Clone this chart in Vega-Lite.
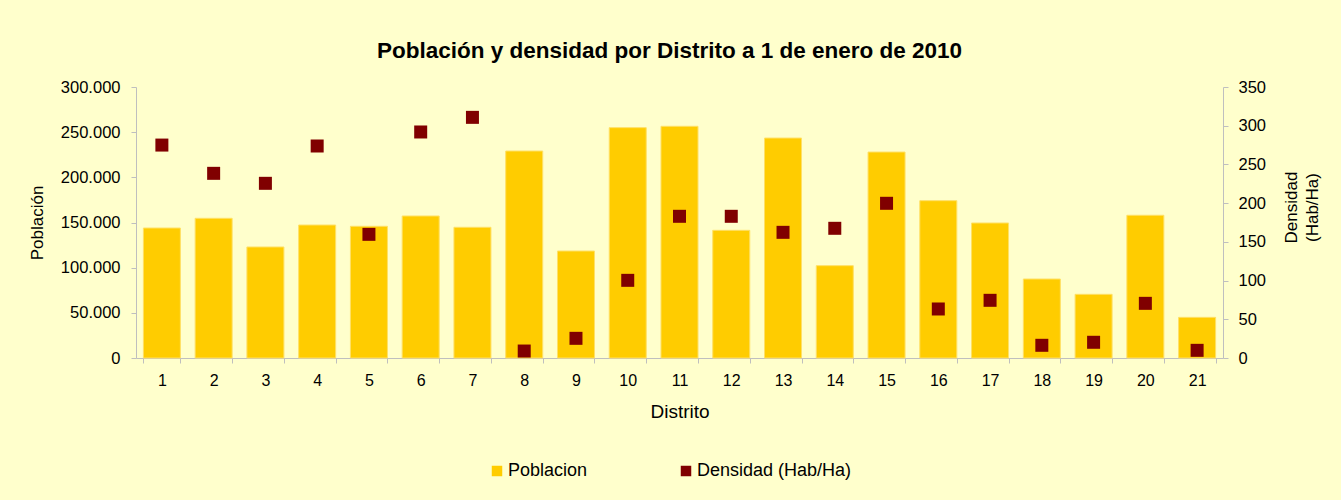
{
  "$schema": "https://vega.github.io/schema/vega-lite/v6.json",
  "autosize": "none",
  "width": 1087,
  "height": 271,
  "padding": {"left": 136, "top": 87, "right": 118, "bottom": 142},
  "background": "#FFFFCC",
  "title": {
    "text": "Población y densidad por Distrito a 1 de enero de 2010",
    "font": "Liberation Sans",
    "fontSize": 22.5,
    "fontWeight": "bold",
    "color": "#000000",
    "anchor": "middle",
    "frame": "group",
    "dx": -10,
    "offset": 17
  },
  "data": {
    "values": [
      {"Distrito": 1, "Poblacion": 143900, "Densidad": 275},
      {"Distrito": 2, "Poblacion": 154650, "Densidad": 238.5},
      {"Distrito": 3, "Poblacion": 122900, "Densidad": 225.6},
      {"Distrito": 4, "Poblacion": 147200, "Densidad": 273.8},
      {"Distrito": 5, "Poblacion": 145800, "Densidad": 159.7},
      {"Distrito": 6, "Poblacion": 157200, "Densidad": 291.9},
      {"Distrito": 7, "Poblacion": 144700, "Densidad": 310.8},
      {"Distrito": 8, "Poblacion": 229150, "Densidad": 9},
      {"Distrito": 9, "Poblacion": 118450, "Densidad": 25.4},
      {"Distrito": 10, "Poblacion": 255000, "Densidad": 100.3},
      {"Distrito": 11, "Poblacion": 256500, "Densidad": 183},
      {"Distrito": 12, "Poblacion": 141350, "Densidad": 183},
      {"Distrito": 13, "Poblacion": 243500, "Densidad": 162.3},
      {"Distrito": 14, "Poblacion": 102200, "Densidad": 167.5},
      {"Distrito": 15, "Poblacion": 228000, "Densidad": 199.8},
      {"Distrito": 16, "Poblacion": 174150, "Densidad": 63.3},
      {"Distrito": 17, "Poblacion": 149450, "Densidad": 74.5},
      {"Distrito": 18, "Poblacion": 87450, "Densidad": 16.4},
      {"Distrito": 19, "Poblacion": 70500, "Densidad": 20.3},
      {"Distrito": 20, "Poblacion": 158000, "Densidad": 70.6},
      {"Distrito": 21, "Poblacion": 45000, "Densidad": 9.9}
    ]
  },
  "encoding": {
    "x": {
      "field": "Distrito",
      "type": "ordinal",
      "scale": {"paddingInner": 0.285, "paddingOuter": 0.1425},
      "axis": {
        "title": "Distrito",
        "labelAngle": 0,
        "tickBand": "extent",
        "labelFontSize": 16,
        "titleFontSize": 19,
        "labelPadding": 9,
        "titlePadding": 14
      }
    }
  },
  "layer": [
    {
      "mark": {"type": "bar", "stroke": "#FFE066", "strokeWidth": 1},
      "encoding": {
        "y": {
          "field": "Poblacion",
          "type": "quantitative",
          "scale": {"domain": [0, 300000]},
          "axis": {
            "title": "Población",
            "values": [0, 50000, 100000, 150000, 200000, 250000, 300000],
            "labelExpr": "replace(format(datum.value, ',d'), ',', '.')",
            "labelFontSize": 16.5,
            "titleFontSize": 17,
            "labelPadding": 11,
            "titlePadding": 14
          }
        },
        "color": {
          "datum": "Poblacion",
          "scale": {"domain": ["Poblacion", "Densidad (Hab/Ha)"], "range": ["#FFCC00", "#800000"]},
          "legend": {
            "orient": "none",
            "legendX": 352,
            "legendY": 375,
            "direction": "horizontal",
            "title": null,
            "symbolType": "square",
            "symbolSize": 110,
            "symbolStrokeWidth": 0,
            "labelFont": "Liberation Sans",
            "labelFontSize": 18,
            "labelColor": "#000000",
            "labelOffset": 2,
            "columnPadding": 89,
            "padding": 0
          }
        }
      }
    },
    {
      "mark": {"type": "point", "shape": "square", "filled": true, "size": 169, "opacity": 1},
      "encoding": {
        "y": {
          "field": "Densidad",
          "type": "quantitative",
          "scale": {"domain": [0, 350]},
          "axis": {
            "orient": "right",
            "title": ["Densidad", "(Hab/Ha)"],
            "values": [0, 50, 100, 150, 200, 250, 300, 350],
            "titleAngle": 270,
            "titleAlign": "center",
            "titleY": 120,
            "titleLineHeight": 21,
            "labelFontSize": 16.5,
            "titleFontSize": 17,
            "labelPadding": 10,
            "titlePadding": 14
          }
        },
        "color": {"datum": "Densidad (Hab/Ha)"}
      }
    }
  ],
  "resolve": {"scale": {"y": "independent"}},
  "config": {
    "view": {"stroke": null},
    "axis": {
      "domainColor": "#BFBFBF",
      "tickColor": "#BFBFBF",
      "labelColor": "#000000",
      "titleColor": "#000000",
      "labelFont": "Liberation Sans",
      "titleFont": "Liberation Sans",
      "titleFontWeight": "normal",
      "grid": false,
      "tickSize": 5
    }
  }
}
